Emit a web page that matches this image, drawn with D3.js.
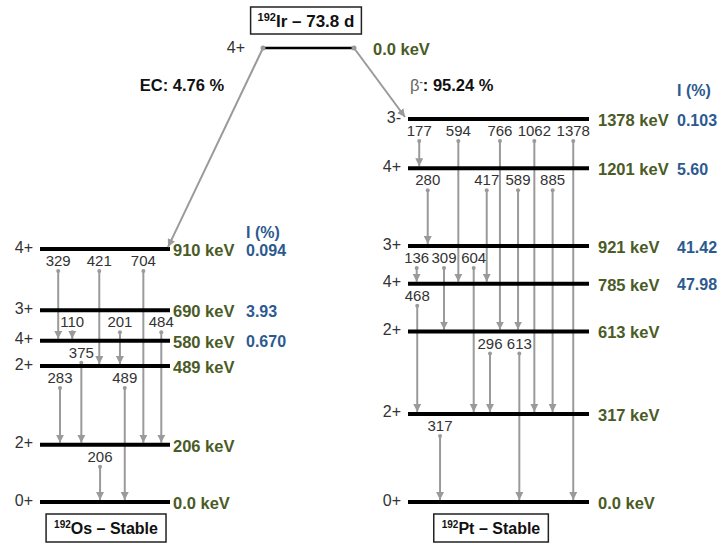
<!DOCTYPE html>
<html>
<head>
<meta charset="utf-8">
<script src="https://cdn.jsdelivr.net/npm/d3@7"></script>
<style>
  html, body { margin: 0; padding: 0; background: #fff; }
  svg { display: block; font-family: "Liberation Sans", Arial, sans-serif; }
</style>
</head>
<body>
<svg id="chart" width="721" height="543"></svg>
<script>
// ---------------- DATA ----------------
const parentName = "Ir", parentMass = "192", parentHalfLife = "73.8 d";
const parentSpin = "4+", parentEnergyLabel = "0.0 keV";
const ecBranch = "EC: 4.76 %";
const betaBranch = ": 95.24 %";

// 192Os levels
const osEnergies = [0, 206, 489, 580, 690, 910];
const osEnergyLabels = ["0.0 keV", "206 keV", "489 keV", "580 keV", "690 keV", "910 keV"];
const osSpins = ["0+", "2+", "2+", "4+", "3+", "4+"];
const osIntensities = ["", "", "", "0.670", "3.93", "0.094"];
// 192Os gammas
const osGammaFrom = [910, 910, 910, 690, 690, 690, 580, 489, 489, 206];
const osGammaTo = [580, 489, 206, 580, 489, 206, 206, 206, 0, 0];
const osGammaLabels = ["329", "421", "704", "110", "201", "484", "375", "283", "489", "206"];
const osGammaLanes = [14, 45.6, 79.5, 24.8, 61.5, 93.3, 31.8, 15.4, 65.2, 46.2];

// 192Pt levels
const ptEnergies = [0, 317, 613, 785, 921, 1201, 1378];
const ptEnergyLabels = ["0.0 keV", "317 keV", "613 keV", "785 keV", "921 keV", "1201 keV", "1378 keV"];
const ptSpins = ["0+", "2+", "2+", "4+", "3+", "4+", "3-"];
const ptIntensities = ["", "", "", "47.98", "41.42", "5.60", "0.103"];
// 192Pt gammas
const ptGammaFrom = [1378, 1378, 1378, 1378, 1378, 1201, 1201, 1201, 1201, 921, 921, 921, 785, 613, 613, 317];
const ptGammaTo = [1201, 785, 613, 317, 0, 921, 785, 613, 317, 785, 613, 317, 317, 317, 0, 0];
const ptGammaLabels = ["177", "594", "766", "1062", "1378", "280", "417", "589", "885", "136", "309", "604", "468", "296", "613", "317"];
const ptGammaLanes = [6.2, 27.8, 50.8, 69.8, 91.3, 10.9, 43.5, 60.8, 79.9, 4.8, 19.9, 36.3, 5.1, 45.3, 61.5, 17.7];

// ---------------- STYLE ----------------
const C_ENERGY = "#4a5b26";
const C_INT = "#2c5a8f";
const C_ARROW = "#9a9a9a";
const C_TEXT = "#333";

const svg = d3.select("#chart");

const y = d3.scaleLinear().domain([0, 1378]).range([502, 119]);
const xOs = d3.scaleLinear().domain([0, 100]).range([40, 170]);
const xPt = d3.scaleLinear().domain([0, 100]).range([408, 589]);

// arrow marker
const defs = svg.append("defs");
defs.append("marker")
  .attr("id", "ah")
  .attr("viewBox", "0 0 10 10")
  .attr("refX", 10).attr("refY", 5)
  .attr("markerWidth", 4).attr("markerHeight", 4)
  .attr("markerUnits", "strokeWidth")
  .attr("orient", "auto")
  .append("path").attr("d", "M0,0 L10,5 L0,10 Z").attr("fill", C_ARROW);

function drawScheme(g, xs, energies, labels, spins, ints, gFrom, gTo, gLab, gLane, opt) {
  const levels = energies.map((e, i) => ({ e, label: labels[i], spin: spins[i], int: ints[i] }));
  const [x0, x1] = xs.range();

  // gamma arrows
  const gammas = gFrom.map((f, i) => ({ from: f, to: gTo[i], label: gLab[i], lane: gLane[i] }));
  const ga = g.append("g");
  ga.selectAll("line.gamma").data(gammas).join("line")
    .attr("class", "gamma")
    .attr("x1", d => xs(d.lane)).attr("x2", d => xs(d.lane))
    .attr("y1", d => y(d.from) + 22).attr("y2", d => y(d.to) - 2)
    .attr("stroke", C_ARROW).attr("stroke-width", 2)
    .attr("marker-end", "url(#ah)");
  ga.selectAll("circle.gdot").data(gammas).join("circle")
    .attr("class", "gdot")
    .attr("cx", d => xs(d.lane)).attr("cy", d => y(d.from) + 22)
    .attr("r", 2).attr("fill", C_ARROW);
  ga.selectAll("text.glab").data(gammas).join("text")
    .attr("class", "glab")
    .attr("x", d => xs(d.lane)).attr("y", d => y(d.from) + 12)
    .attr("dy", "0.35em")
    .attr("text-anchor", "middle")
    .attr("font-size", 15).attr("fill", C_TEXT)
    .text(d => d.label);

  // level lines
  g.selectAll("line.level").data(levels).join("line")
    .attr("class", "level")
    .attr("x1", x0).attr("x2", x1)
    .attr("y1", d => y(d.e)).attr("y2", d => y(d.e))
    .attr("stroke", "#000").attr("stroke-width", 4);
  g.selectAll("text.spin").data(levels).join("text")
    .attr("class", "spin")
    .attr("x", x0 - 7).attr("y", d => y(d.e) - 2)
    .attr("dy", "0.35em").attr("text-anchor", "end")
    .attr("font-size", 16).attr("fill", C_TEXT)
    .text(d => d.spin);
  g.selectAll("text.elab").data(levels).join("text")
    .attr("class", "elab")
    .attr("x", x1 + opt.eOff).attr("y", d => y(d.e) + 1)
    .attr("dy", "0.35em")
    .attr("font-size", 16.5).attr("font-weight", "bold").attr("fill", C_ENERGY)
    .text(d => d.label);
  g.selectAll("text.ilab").data(levels.filter(d => d.int !== "")).join("text")
    .attr("class", "ilab")
    .attr("x", opt.iX).attr("y", d => y(d.e) + 1)
    .attr("dy", "0.35em")
    .attr("font-size", 16).attr("font-weight", "bold").attr("fill", C_INT)
    .text(d => d.int);
  g.append("text")
    .attr("x", opt.iX).attr("y", opt.hY).attr("dy", "0.35em")
    .attr("font-size", 16).attr("font-weight", "bold").attr("fill", C_INT)
    .text("I (%)");

  // name box
  const nb = g.append("g");
  const t = nb.append("text")
    .attr("x", opt.boxCx).attr("y", 534)
    .attr("text-anchor", "middle")
    .attr("font-size", 16).attr("font-weight", "bold").attr("fill", "#111");
  t.append("tspan").attr("font-size", 10).attr("dy", -6).text(opt.mass);
  t.append("tspan").attr("dy", 6).text(opt.name);
  const bb = t.node().getBBox();
  nb.insert("rect", "text")
    .attr("x", bb.x - 8).attr("y", 514)
    .attr("width", bb.width + 16).attr("height", 28)
    .attr("fill", "#fff").attr("stroke", "#222").attr("stroke-width", 1.5);
}

drawScheme(svg.append("g"), xOs, osEnergies, osEnergyLabels, osSpins, osIntensities,
  osGammaFrom, osGammaTo, osGammaLabels, osGammaLanes,
  { eOff: 3, iX: 246, hY: 232, boxCx: 106, mass: "192", name: "Os \u2013 Stable" });

drawScheme(svg.append("g"), xPt, ptEnergies, ptEnergyLabels, ptSpins, ptIntensities,
  ptGammaFrom, ptGammaTo, ptGammaLabels, ptGammaLanes,
  { eOff: 9, iX: 677, hY: 90, boxCx: 491, mass: "192", name: "Pt \u2013 Stable" });

// ---------------- PARENT ----------------
const pY = 48, pX0 = 263, pX1 = 354;
// decay branches
svg.append("line")
  .attr("x1", pX0).attr("y1", pY).attr("x2", xOs.range()[1] - 2).attr("y2", y(910) - 2)
  .attr("stroke", C_ARROW).attr("stroke-width", 2).attr("marker-end", "url(#ah)");
svg.append("line")
  .attr("x1", pX1).attr("y1", pY).attr("x2", xPt.range()[0] - 3).attr("y2", y(1378) - 2)
  .attr("stroke", C_ARROW).attr("stroke-width", 2).attr("marker-end", "url(#ah)");
svg.append("line")
  .attr("x1", pX0).attr("x2", pX1).attr("y1", pY).attr("y2", pY)
  .attr("stroke", "#000").attr("stroke-width", 2.5);
svg.selectAll("circle.pdot").data([pX0, pX1]).join("circle")
  .attr("cx", d => d).attr("cy", pY).attr("r", 2.5).attr("fill", C_ARROW);
svg.append("text").attr("x", 245).attr("y", pY - 1).attr("dy", "0.35em")
  .attr("text-anchor", "end").attr("font-size", 16).attr("fill", C_TEXT).text(parentSpin);
svg.append("text").attr("x", 373).attr("y", pY + 1).attr("dy", "0.35em")
  .attr("font-size", 16.5).attr("font-weight", "bold").attr("fill", C_ENERGY).text(parentEnergyLabel);

// branch labels
svg.append("text").attr("x", 182).attr("y", 85).attr("dy", "0.35em")
  .attr("text-anchor", "middle").attr("font-size", 16.5).attr("font-weight", "bold").attr("fill", "#111")
  .text(ecBranch);
const bt = svg.append("text").attr("x", 410).attr("y", 85).attr("dy", "0.35em")
  .attr("font-size", 16.5).attr("font-weight", "bold").attr("fill", "#111");
bt.append("tspan").attr("font-weight", "normal").attr("fill", "#666").text("\u03b2");
bt.append("tspan").attr("font-size", 10).attr("dy", -6).attr("fill", "#666").text("-");
bt.append("tspan").attr("dy", 6).text(betaBranch);

// title box
const tg = svg.append("g");
const tt = tg.append("text").attr("x", 306).attr("y", 27)
  .attr("text-anchor", "middle").attr("font-size", 17).attr("font-weight", "bold").attr("fill", "#111");
tt.append("tspan").attr("font-size", 11).attr("dy", -6).text(parentMass);
tt.append("tspan").attr("dy", 6).text(parentName + " \u2013 " + parentHalfLife);
const tb = tt.node().getBBox();
tg.insert("rect", "text").attr("x", tb.x - 7).attr("y", 7)
  .attr("width", tb.width + 14).attr("height", 27)
  .attr("fill", "#fff").attr("stroke", "#222").attr("stroke-width", 1.5);
</script>
</body>
</html>
